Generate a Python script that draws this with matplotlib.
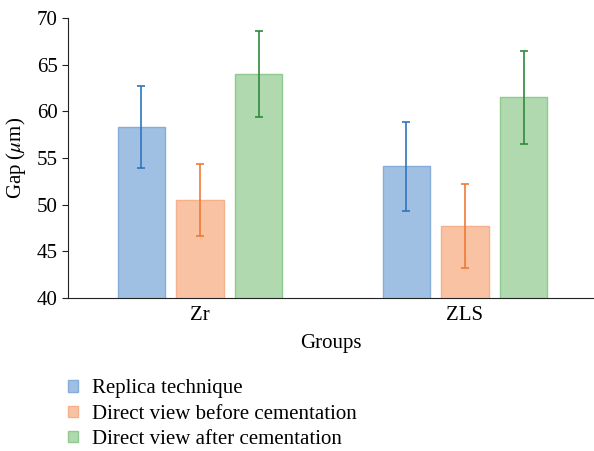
import numpy as np
import matplotlib.pyplot as plt

plt.rcParams['font.family'] = ['Liberation Serif', 'DejaVu Serif']
plt.rcParams['mathtext.fontset'] = 'stix'

# data
groups = ['Zr', 'ZLS']
series = ['Replica technique', 'Direct view before cementation', 'Direct view after cementation']
means = [[58.3, 54.1],
         [50.5, 47.7],
         [64.0, 61.5]]
errs = [[4.4, 4.8],
        [3.9, 4.5],
        [4.6, 5.0]]

face = ['#a0c0e3', '#f9c3a3', '#b0d9b0']
edge = ['#86acd8', '#f5b08c', '#8fcb90']
ecol = ['#2e75c0', '#ee7a35', '#2f8a3c']

fig = plt.figure(figsize=(5.94, 4.51), dpi=100)
ax = fig.add_axes([68/594, 1-298/451, 1-68/594, 280/451])

x = np.arange(len(groups))
w = 0.178
off = 0.221
for i in range(3):
    ax.bar(x + (i-1)*off, means[i], w, yerr=errs[i], color=face[i], edgecolor=edge[i],
           linewidth=1, error_kw=dict(ecolor=ecol[i], elinewidth=1.2, capsize=3, capthick=1.2),
           label=series[i], zorder=2)

ax.set_ylim(40, 70)
ax.set_yticks(range(40, 71, 5))
ax.set_xlim(-0.498, 1.487)
ax.set_xticks(x)
ax.set_xticklabels(groups)
ax.tick_params(axis='x', length=0, labelsize=15, pad=6)
ax.tick_params(axis='y', length=4, labelsize=15, color='#222222', direction='out')
ax.spines['top'].set_visible(False)
ax.spines['right'].set_visible(False)
ax.spines['left'].set_color('#222222')
ax.spines['bottom'].set_color('#222222')
ax.set_ylabel(r'Gap ($\mu$m)', fontsize=15, labelpad=6)
ax.set_xlabel('Groups', fontsize=15, labelpad=6)

fig.legend(loc='upper left', bbox_to_anchor=(60/594, 1-371/451), frameon=False,
           fontsize=15, handlelength=0.45, handleheight=0.45, handletextpad=0.7,
           labelspacing=0.3, borderaxespad=0)

fig.savefig('out.png', dpi=100)
